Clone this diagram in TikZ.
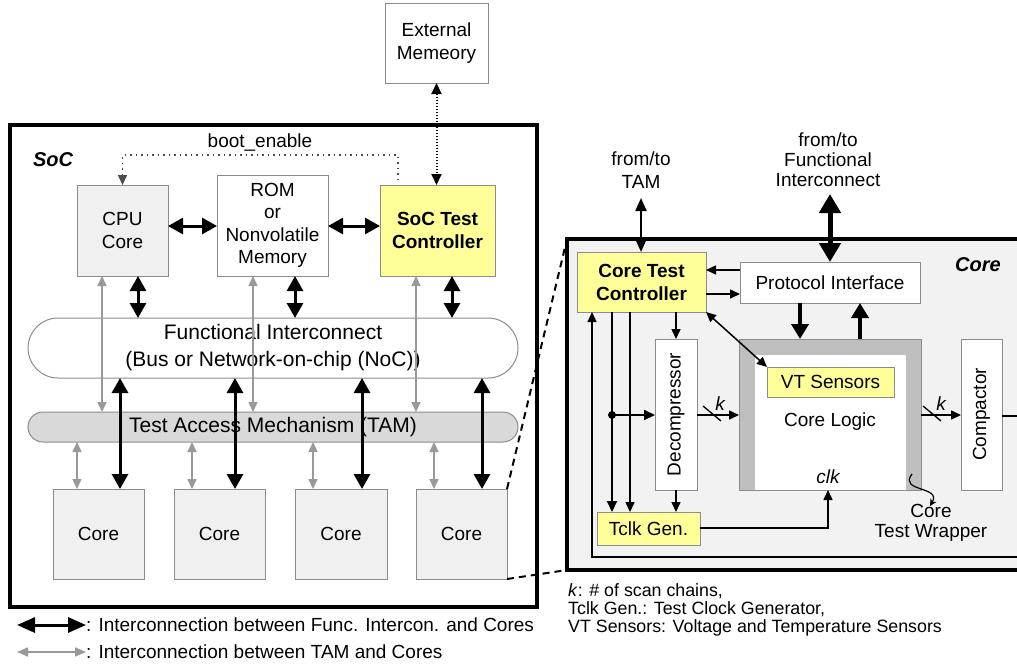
\documentclass[tikz,border=0pt]{standalone}
\usepackage{fontspec}
\setmainfont{Liberation Sans}
\usetikzlibrary{arrows.meta,calc}

\definecolor{boxgray}{HTML}{8C8C8C}
\definecolor{lightfill}{HTML}{F0F0F0}
\definecolor{ctlyellow}{HTML}{FFFF99}
\definecolor{tamfill}{HTML}{D9D9D9}
\definecolor{wrapgray}{HTML}{BFBFBF}
\definecolor{arrgray}{HTML}{999999}
\definecolor{corebg}{HTML}{F2F2F2}

\tikzset{
  box/.style={draw=boxgray, line width=1pt, inner sep=0pt, outer sep=0pt, align=center},
  graybox/.style={box, fill=lightfill},
  whitebox/.style={box, fill=white},
  yellowbox/.style={box, fill=ctlyellow},
  frame/.style={draw=black, line width=4pt, inner sep=0pt, outer sep=0pt},
  bigarr/.style={line width=3pt, {Triangle[width=16pt,length=15pt]}-{Triangle[width=16pt,length=15pt]}},
  grayarr/.style={draw=arrgray, line width=1.5pt, {Triangle[width=9pt,length=10pt]}-{Triangle[width=9pt,length=10pt]}},
  thinarr/.style={line width=1.5pt, -{Triangle[width=9pt,length=10pt]}},
  thinboth/.style={line width=1.5pt, {Triangle[width=9pt,length=10pt]}-{Triangle[width=9pt,length=10pt]}},
  thickarr/.style={line width=4pt, -{Triangle[width=17pt,length=15pt]}},
  hugearr/.style={line width=5pt, {Triangle[width=21pt,length=19pt]}-{Triangle[width=21pt,length=19pt]}},
  dotarr/.style={line width=2pt, dash pattern=on 1.5pt off 1.5pt, {Triangle[width=10pt,length=11pt]}-{Triangle[width=10pt,length=11pt]}},
  bootline/.style={draw=black!70, line width=1.5pt, dash pattern=on 1.5pt off 4pt, -{Triangle[width=9pt,length=10pt]}},
  zoomline/.style={line width=2pt, dash pattern=on 7pt off 5pt},
  label/.style={inner sep=0pt, align=center},
}

\begin{document}
\begin{tikzpicture}[x=1pt, y=-1pt, font=\fontsize{19}{22.5}\selectfont]
  \clip (0,0) rectangle (1017,665);
  \fill[white] (0,0) rectangle (1017,665);

  % ---------- SoC level ----------
  \node[whitebox, minimum width=103pt, minimum height=80pt] (extmem) at (436.5,43) {External\\Memeory};

  \node[frame, fill=white, minimum width=527pt, minimum height=482pt] (soc) at (273.5,366) {};
  \node[label, font=\fontsize{20}{24}\selectfont\bfseries\itshape] (soclabel) at (53,160) {SoC};
  \node[label] (bootlabel) at (260,142) {boot\_enable};

  \node[graybox, minimum width=91pt, minimum height=91pt] (cpu) at (122.5,230.5) {CPU\\Core};
  \node[whitebox, minimum width=111pt, minimum height=101pt] (rom) at (272.5,225.5) {ROM\\or\\Nonvolatile\\Memory};
  \node[yellowbox, minimum width=115pt, minimum height=91pt, font=\fontsize{19}{23}\selectfont\bfseries] (stc) at (437.5,230.5) {SoC Test\\Controller};

  \node[whitebox, rounded corners=30pt, minimum width=490pt, minimum height=60pt,
        font=\fontsize{21}{27}\selectfont] (fi) at (273,348) {Functional Interconnect\\(Bus or Network-on-chip (NoC))};
  \node[box, fill=tamfill, rounded corners=15pt, minimum width=490pt, minimum height=30pt,
        font=\fontsize{21}{25}\selectfont] (tam) at (273,427) {Test Access Mechanism (TAM)};

  \node[graybox, minimum width=91pt, minimum height=90pt] (core1) at (98.5,534) {Core};
  \node[graybox, minimum width=91pt, minimum height=90pt] (core2) at (219.5,534) {Core};
  \node[graybox, minimum width=92pt, minimum height=90pt] (core3) at (341,534) {Core};
  \node[graybox, minimum width=91pt, minimum height=90pt] (core4) at (461.5,534) {Core};

  % external memory link and boot enable
  \draw[dotarr] (extmem.south) -- (extmem.south |- stc.north);
  \coordinate (bootstart) at (398,180);
  \draw[bootline] (bootstart) -- (398,155) -- (122.5,155) -- (cpu.north);

  % horizontal links between top blocks
  \draw[bigarr] (cpu.east |- 0,226) -- (rom.west |- 0,226);
  \draw[bigarr] (rom.east |- 0,226) -- (stc.west |- 0,226);

  % top blocks to functional interconnect
  \draw[bigarr] (138,0 |- cpu.south) -- (138,0 |- fi.north);
  \draw[bigarr] (295,0 |- rom.south) -- (295,0 |- fi.north);
  \draw[bigarr] (452,0 |- stc.south) -- (452,0 |- fi.north);

  % top blocks to TAM
  \draw[grayarr] (102,0 |- cpu.south) -- (102,0 |- tam.north);
  \draw[grayarr] (253,0 |- rom.south) -- (253,0 |- tam.north);
  \draw[grayarr] (416,0 |- stc.south) -- (416,0 |- tam.north);

  % functional interconnect to cores
  \draw[bigarr] (120,0 |- fi.south) -- (120,0 |- core1.north);
  \draw[bigarr] (235,0 |- fi.south) -- (235,0 |- core2.north);
  \draw[bigarr] (362,0 |- fi.south) -- (362,0 |- core3.north);
  \draw[bigarr] (482,0 |- fi.south) -- (482,0 |- core4.north);

  % TAM to cores
  \draw[grayarr] (77,0 |- tam.south) -- (77,0 |- core1.north);
  \draw[grayarr] (192,0 |- tam.south) -- (192,0 |- core2.north);
  \draw[grayarr] (313,0 |- tam.south) -- (313,0 |- core3.north);
  \draw[grayarr] (434,0 |- tam.south) -- (434,0 |- core4.north);

  % ---------- core detail ----------
  \node[frame, fill=corebg, minimum width=463pt, minimum height=331pt] (corebig) at (798.5,404.5) {};
  \draw[zoomline] (core4.north east) -- (corebig.north west);
  \draw[zoomline] (core4.south east) -- (corebig.south west);
  \node[label, font=\fontsize{20}{24}\selectfont\bfseries\itshape] (corelabel) at (978,265) {Core};

  \node[label] (fromtam) at (641,170) {from/to\\TAM};
  \node[label, font=\fontsize{19}{20}\selectfont] (fromfi) at (828,160) {from/to\\Functional\\Interconnect};

  \node[yellowbox, minimum width=129pt, minimum height=60pt, font=\fontsize{19}{23}\selectfont\bfseries] (ctc) at (641.5,282) {Core Test\\Controller};
  \node[whitebox, minimum width=180pt, minimum height=41pt] (pi) at (830,282.5) {Protocol Interface};

  \node[box, draw=boxgray, fill=wrapgray, minimum width=182pt, minimum height=151pt] (wrap) at (830,414.5) {};
  \node[inner sep=0pt, outer sep=0pt, fill=white, minimum width=151pt, minimum height=134.5pt] (logic) at (830.5,422.25) {};
  \node[yellowbox, minimum width=127pt, minimum height=30pt] (vt) at (830.5,382) {VT Sensors};
  \node[label] (logiclabel) at (830,422) {Core Logic};
  \node[label, font=\fontsize{19}{22}\selectfont\itshape] (clk) at (828,477) {clk};

  \node[whitebox, minimum width=42pt, minimum height=151pt] (dec) at (676,414.5) {};
  \node[label, rotate=90] (declabel) at (dec.center) {Decompressor};
  \node[whitebox, minimum width=41pt, minimum height=151pt] (cmp) at (981.5,414.5) {};
  \node[label, rotate=90] (cmplabel) at (cmp.center) {Compactor};
  \node[yellowbox, minimum width=103pt, minimum height=33pt] (tclk) at (648.5,528.5) {Tclk Gen.};

  % external links of the core
  \coordinate (tamend) at (641,198);
  \draw[line width=2pt, {Triangle[width=11pt,length=13pt]}-{Triangle[width=11pt,length=13pt]}] (tamend) -- (tamend |- ctc.north);
  \coordinate (fiend) at (830,194);
  \draw[hugearr] (fiend) -- (fiend |- pi.north);

  % controller and protocol interface
  \draw[thinarr] (pi.west |- 0,270) -- (ctc.east |- 0,270);
  \draw[thinarr] (ctc.east |- 0,294) -- (pi.west |- 0,294);
  \draw[thickarr] (800,0 |- pi.south) -- (800,0 |- wrap.north);
  \draw[thickarr] (860,0 |- wrap.north) -- (860,0 |- pi.south);
  \draw[thinboth] (ctc.south east) -- (vt.north west);

  % test data path
  \draw[thinarr] (676,0 |- ctc.south) -- (676,0 |- dec.north);
  \draw[thinarr] (676,0 |- dec.south) -- (676,0 |- tclk.north);
  \draw[line width=2pt, -{Triangle[width=10pt,length=11pt]}] (612,0 |- ctc.south) -- (612,0 |- tclk.north);
  \draw[thinarr] (630,0 |- ctc.south) -- (630,0 |- tclk.north);
  \coordinate (junc) at (612,415);
  \fill (junc) circle[radius=4pt];
  \draw[line width=2pt, -{Triangle[width=10pt,length=11pt]}] (junc) -- (junc -| dec.west);

  \draw[thinarr] (dec.east |- 0,415) -- (wrap.west |- 0,415);
  \draw[line width=1.3pt] (703,406) -- (721,421);
  \node[label, font=\fontsize{19}{22}\selectfont\itshape] (kin) at (720,404) {k};
  \draw[thinarr] (wrap.east |- 0,415) -- (cmp.west |- 0,415);
  \draw[line width=1.3pt] (923,406) -- (941,421);
  \node[label, font=\fontsize{19}{22}\selectfont\itshape] (kout) at (941,404) {k};

  % response feedback to the controller
  \draw[line width=1.2pt, -{Triangle[width=9pt,length=10pt]}] (cmp.east |- 0,416) -- (1045,416) -- (1045,557) -- (592,557) -- (592,0 |- ctc.south);

  % test clock
  \draw[thinarr] (tclk.east |- 0,528) -- (828,528) -- (828,0 |- wrap.south);

  % wrapper annotation
  \node[label, font=\fontsize{19}{20}\selectfont] (wraplabel) at (931,523) {Core\\Test Wrapper};
  \coordinate (wrapmark) at (912,474);
  \draw[line width=1.2pt, -{Stealth[width=7pt,length=7pt]}] (wrapmark) .. controls (898,492) and (942,486) .. (930,506);

  % notes
  \node[label, anchor=west, align=left, font=\fontsize{17.8}{18}\selectfont] (notes) at (568,610)
    {\textit{k}: \# of scan chains,\\Tclk Gen.: Test Clock Generator,\\VT Sensors: Voltage and Temperature Sensors};

  % legend
  \coordinate (lg1a) at (17,625);
  \coordinate (lg1b) at (86,625);
  \draw[line width=3pt, {Triangle[width=15pt,length=18pt]}-{Triangle[width=15pt,length=18pt]}] (lg1a) -- (lg1b);
  \node[label, anchor=west] (lg1text) at (lg1b) {: Interconnection between Func. Intercon. and Cores};
  \coordinate (lg2a) at (17,652);
  \coordinate (lg2b) at (86,652);
  \draw[draw=arrgray, line width=1.5pt, {Triangle[width=9pt,length=11pt]}-{Triangle[width=9pt,length=11pt]}] (lg2a) -- (lg2b);
  \node[label, anchor=west] (lg2text) at (lg2b) {: Interconnection between TAM and Cores};
\end{tikzpicture}
\end{document}
